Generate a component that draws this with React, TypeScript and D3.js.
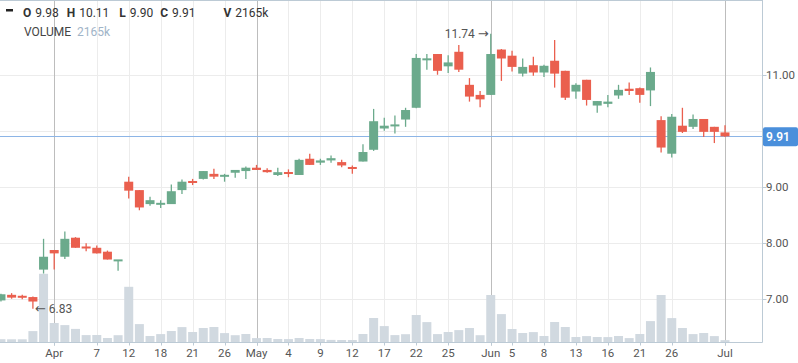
import React from "react";
import * as d3 from "d3";

const W = 798;
const H = 363;

const opens = [6.98, 7.08, 7.05, 7.04, 7.53, 7.88, 7.76, 8.1, 7.93, 7.92, 7.85, 7.69, 9.1, 8.95, 8.7, 8.69, 8.7, 8.95, 9.11, 9.15, 9.24, 9.2, 9.26, 9.29, 9.35, 9.31, 9.22, 9.26, 9.22, 9.51, 9.44, 9.48, 9.45, 9.35, 9.46, 9.67, 10.05, 10.1, 10.21, 10.42, 11.28, 11.38, 11.16, 11.42, 10.83, 10.65, 10.65, 11.46, 11.35, 11.03, 11.18, 11.05, 11.26, 11.08, 10.71, 10.92, 10.46, 10.49, 10.64, 10.76, 10.77, 10.73, 10.2, 9.6, 10.1, 10.08, 10.22, 10.08, 9.98];
const highs = [7.1, 7.11, 7.08, 7.05, 8.08, 7.88, 8.21, 8.11, 8.0, 7.96, 7.87, 7.7, 9.19, 8.95, 8.83, 8.77, 9.05, 9.14, 9.15, 9.29, 9.33, 9.24, 9.31, 9.37, 9.4, 9.34, 9.35, 9.32, 9.51, 9.6, 9.51, 9.57, 9.49, 9.39, 9.77, 10.4, 10.24, 10.28, 10.42, 11.38, 11.38, 11.38, 11.36, 11.54, 10.95, 10.72, 11.74, 11.47, 11.44, 11.3, 11.33, 11.19, 11.63, 11.08, 10.86, 10.92, 10.54, 10.65, 10.83, 10.87, 10.78, 11.14, 10.27, 10.31, 10.42, 10.3, 10.22, 10.08, 10.11];
const lows = [6.96, 7.01, 7.0, 6.83, 7.46, 7.53, 7.72, 7.92, 7.86, 7.82, 7.71, 7.51, 8.8, 8.59, 8.67, 8.63, 8.7, 8.88, 9.04, 9.14, 9.15, 9.1, 9.17, 9.15, 9.31, 9.26, 9.2, 9.18, 9.22, 9.4, 9.4, 9.44, 9.36, 9.24, 9.46, 9.65, 10.01, 9.96, 10.08, 10.41, 11.1, 11.01, 11.04, 11.06, 10.53, 10.43, 10.65, 10.9, 11.07, 10.98, 10.99, 10.97, 10.78, 10.56, 10.58, 10.46, 10.33, 10.43, 10.58, 10.65, 10.51, 10.45, 9.62, 9.53, 9.97, 10.04, 9.9, 9.79, 9.9];
const closes = [7.09, 7.03, 7.04, 6.96, 7.76, 7.82, 8.08, 7.92, 7.92, 7.82, 7.71, 7.7, 8.94, 8.64, 8.77, 8.72, 8.93, 9.1, 9.08, 9.29, 9.19, 9.21, 9.31, 9.35, 9.31, 9.27, 9.27, 9.25, 9.49, 9.4, 9.48, 9.52, 9.39, 9.34, 9.63, 10.18, 10.1, 10.11, 10.38, 11.31, 11.29, 11.08, 11.23, 11.1, 10.62, 10.57, 11.38, 11.3, 11.15, 11.15, 11.05, 11.17, 11.03, 10.6, 10.83, 10.56, 10.54, 10.53, 10.74, 10.72, 10.65, 11.06, 9.71, 10.26, 9.99, 10.22, 9.99, 9.99, 9.91];
const volumesK = [3100, 3000, 3000, 11200, 68500, 19300, 17200, 13400, 7200, 7300, 4300, 7100, 55500, 18200, 6300, 8200, 11300, 15200, 10300, 14300, 15300, 9200, 7100, 8300, 4200, 4300, 3300, 3200, 4300, 3300, 3200, 2400, 2300, 2300, 8300, 24300, 16200, 7200, 8100, 27300, 20200, 8200, 10300, 12200, 14300, 7100, 47300, 28200, 13300, 9300, 10200, 6300, 20300, 15300, 5300, 6200, 5300, 5200, 6300, 4200, 8300, 21200, 47300, 24200, 14300, 8200, 9300, 6200, 2165];

const tickIndex = [5, 9, 12, 15, 18, 21, 24, 27, 30, 33, 36, 39, 42, 46, 48, 51, 54, 57, 60, 63, 68];
const tickLabels = ["Apr", "7", "12", "18", "21", "26", "May", "4", "9", "12", "17", "22", "25", "Jun", "5", "8", "13", "16", "21", "26", "Jul"];
const monthLabels = ["Apr", "May", "Jun", "Jul"];
const priceTicks = [7, 8, 9, 10, 11];
const lastPrice = 9.91;

const GREEN = "#6BAA8C";
const RED = "#EA5F4E";
const VOL = "#D1D9E0";
const FONT = "Roboto, 'Noto Sans', sans-serif";
const ARROW_FONT = "'DejaVu Sans', sans-serif";

export default function App() {
  const plotRight = 762.5;
  const axisY = 342.5;
  const n = opens.length;
  const x = d3.scaleLinear().domain([0, n - 1]).range([0.96, 725]);
  const y = d3.scaleLinear().domain([7, 11]).range([299.3, 75.3]);
  const yv = d3.scaleLinear().domain([0, 100000]).range([axisY - 0.2, axisY - 100.2]);
  const bodyW = 9;
  const fmt = d3.format(".2f");
  const data = d3.range(n).map((i) => ({
    i,
    o: opens[i],
    h: highs[i],
    l: lows[i],
    c: closes[i],
    v: volumesK[i],
  }));
  const last = data[n - 1];
  const hiIdx = d3.maxIndex(highs);
  const loIdx = d3.minIndex(lows);
  const visibleLabels = priceTicks.filter((t) => Math.abs(y(t) - y(lastPrice)) > 12);

  return (
    <svg
      width={W}
      height={H}
      style={{ position: "absolute", left: 0, top: 0, background: "#fff" }}
      fontFamily={FONT}
    >
      {/* horizontal grid */}
      {priceTicks.map((t) => (
        <line key={"hg" + t} x1={0} x2={plotRight} y1={Math.round(y(t)) + 0.5} y2={Math.round(y(t)) + 0.5} stroke="#ECECEC" />
      ))}
      {/* vertical grid */}
      {tickIndex.map((ti, k) => {
        const isMonth = monthLabels.includes(tickLabels[k]);
        const xx = Math.round(x(ti)) + 0.5;
        return (
          <line key={"vg" + k} x1={xx} x2={xx} y1={0} y2={axisY + (isMonth ? 3 : 0)} stroke={isMonth ? "#BDBDBD" : "#ECECEC"} />
        );
      })}
      {/* volume bars */}
      {data.map((d) => (
        <rect key={"v" + d.i} x={x(d.i) - bodyW / 2} width={bodyW} y={yv(d.v)} height={yv(0) - yv(d.v)} fill={VOL} />
      ))}
      {/* last price line */}
      <line x1={0} x2={plotRight} y1={Math.round(y(lastPrice)) + 0.5} y2={Math.round(y(lastPrice)) + 0.5} stroke="#8DB5E6" />
      {/* candles */}
      {data.map((d) => {
        const col = d.c >= d.o ? GREEN : RED;
        const top = y(Math.max(d.o, d.c));
        const bot = y(Math.min(d.o, d.c));
        const hgt = Math.max(2, bot - top);
        const cx = x(d.i);
        return (
          <g key={"c" + d.i}>
            <line x1={cx} x2={cx} y1={y(d.h)} y2={y(d.l)} stroke={col} strokeWidth={1.3} />
            <rect x={cx - bodyW / 2} width={bodyW} y={hgt === 2 ? (top + bot) / 2 - 1 : top} height={hgt} fill={col} />
          </g>
        );
      })}
      {/* high / low annotations */}
      <text x={x(hiIdx) - 2} y={y(highs[hiIdx]) + 4} fontSize={12} fill="#555" textAnchor="end">
        {fmt(highs[hiIdx]) + " "}
        <tspan fontFamily={ARROW_FONT} fontSize={13}>{"\u2192"}</tspan>
      </text>
      <text x={x(loIdx) + 2} y={y(lows[loIdx]) + 4} fontSize={12} fill="#555" textAnchor="start">
        <tspan fontFamily={ARROW_FONT} fontSize={13}>{"\u2190"}</tspan>
        {" " + fmt(lows[loIdx])}
      </text>
      {/* frame */}
      <line x1={0} x2={plotRight} y1={0.5} y2={0.5} stroke="#BCCAD5" />
      <line x1={plotRight} x2={plotRight} y1={0} y2={axisY} stroke="#BCCAD5" />
      <line x1={0} x2={plotRight} y1={axisY} y2={axisY} stroke="#BCCAD5" />
      {/* x axis labels */}
      {tickIndex.map((ti, k) => (
        <g key={"xl" + k}>
          <line x1={Math.round(x(ti)) + 0.5} x2={Math.round(x(ti)) + 0.5} y1={axisY} y2={axisY + 3} stroke="#BCCAD5" />
          <text x={x(ti)} y={356.5} fontSize={11.5} fill="#555" textAnchor="middle">
            {tickLabels[k]}
          </text>
        </g>
      ))}
      {/* y axis labels */}
      {priceTicks.map((t) => (
        <line key={"yt" + t} x1={plotRight} x2={plotRight + 4} y1={Math.round(y(t)) + 0.5} y2={Math.round(y(t)) + 0.5} stroke="#BCCAD5" />
      ))}
      {visibleLabels.map((t) => (
        <text key={"yl" + t} x={766} y={y(t) + 4} fontSize={11.5} fill="#555">
          {fmt(t)}
        </text>
      ))}
      {/* last price label */}
      <rect x={763} y={y(lastPrice) - 9} width={35} height={19} rx={2} fill="#4A8FDB" />
      <text x={766} y={y(lastPrice) + 4.5} fontSize={12} fill="#fff" fontWeight={600}>
        {fmt(lastPrice)}
      </text>
      {/* legend */}
      <rect x={6} y={9} width={7} height={2.5} fill="#222" />
      <text x={23} y={16.5} fontSize={12} fill="#333">
        <tspan fontWeight={700}>O</tspan>
        <tspan dx={4}>{fmt(last.o)}</tspan>
        <tspan dx={8} fontWeight={700}>H</tspan>
        <tspan dx={4}>{fmt(last.h)}</tspan>
        <tspan dx={10} fontWeight={700}>L</tspan>
        <tspan dx={4}>{fmt(last.l)}</tspan>
        <tspan dx={7} fontWeight={700}>C</tspan>
        <tspan dx={4}>{fmt(last.c)}</tspan>
        <tspan dx={28} fontWeight={700}>V</tspan>
        <tspan dx={4}>{last.v + "k"}</tspan>
      </text>
      <text x={24} y={36} fontSize={12} fill="#444">
        VOLUME
        <tspan dx={6} fill="#9FB4C8">{last.v + "k"}</tspan>
      </text>
    </svg>
  );
}
